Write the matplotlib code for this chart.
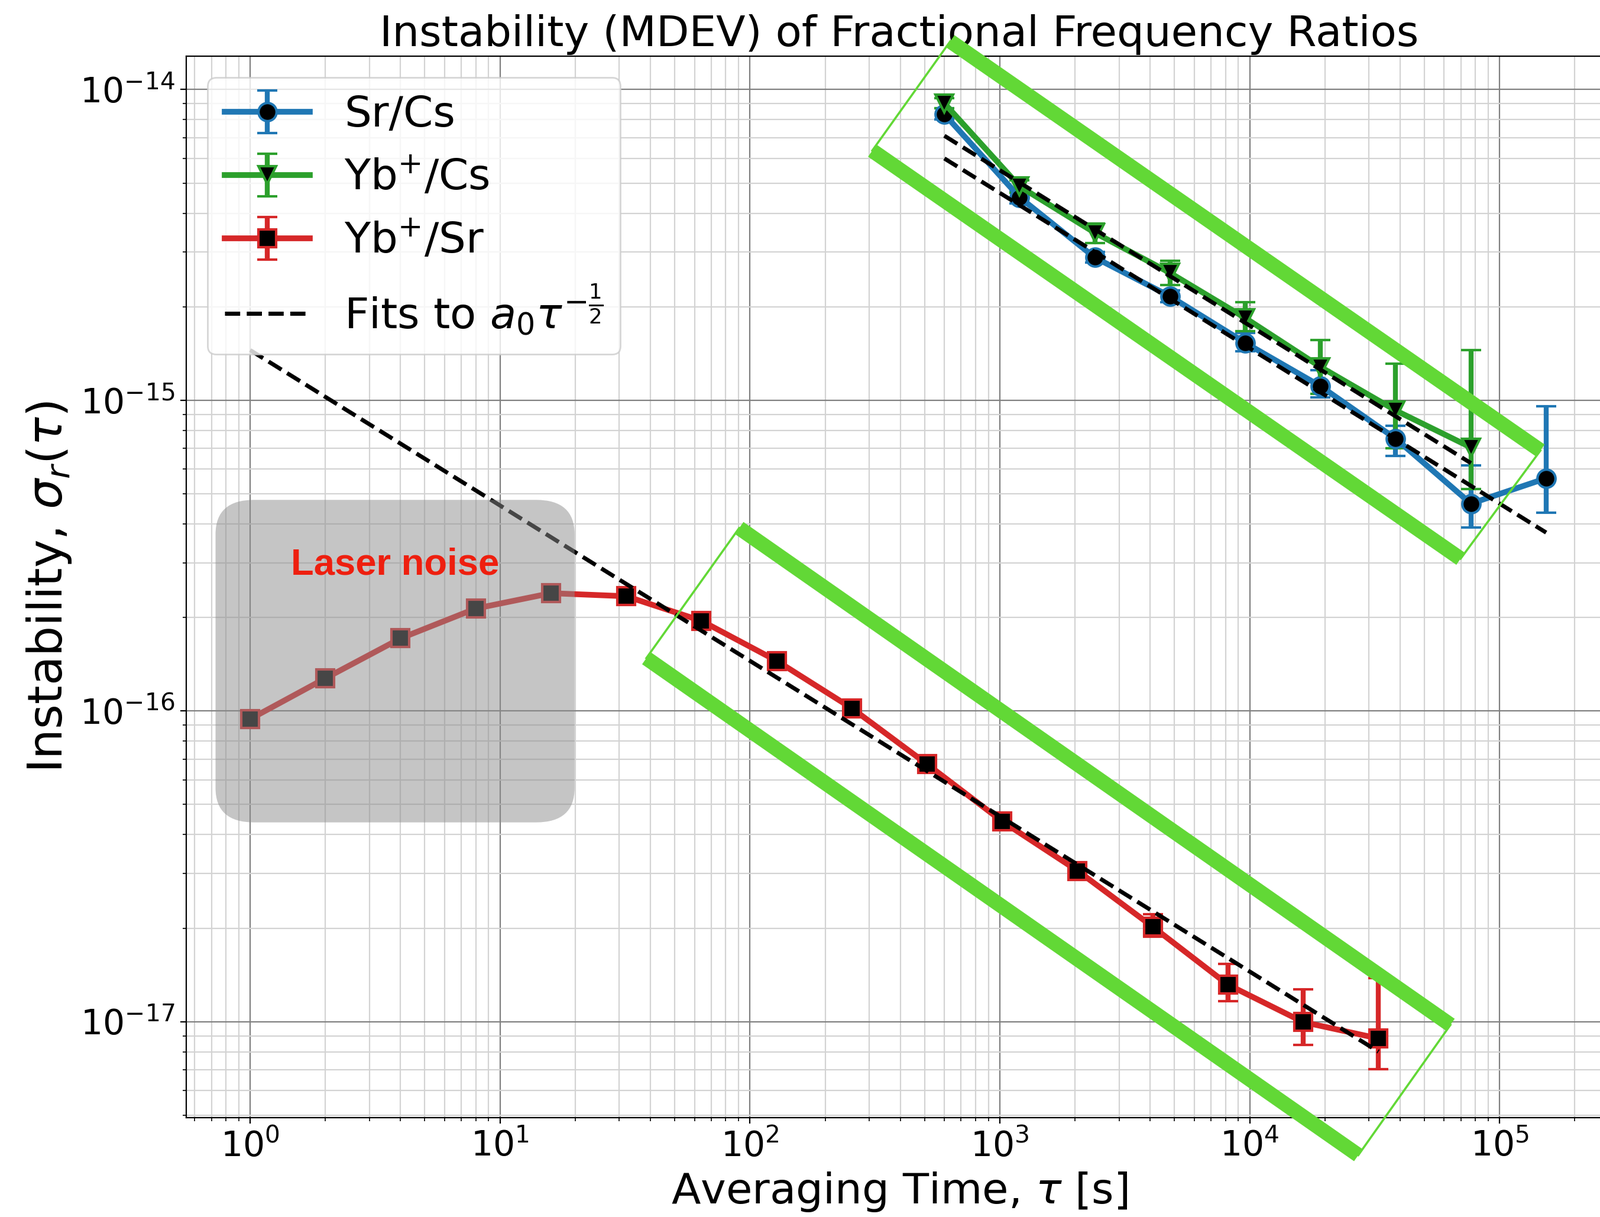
import matplotlib
matplotlib.use('Agg')
import matplotlib.pyplot as plt
from matplotlib.patches import FancyBboxPatch
import numpy as np

# Sr/Cs
tau_sr_cs = [600, 1200, 2400, 4800, 9600, 19200, 38400, 76800, 153600]
sig_sr_cs = [8.33e-15, 4.50e-15, 2.88e-15, 2.16e-15, 1.53e-15, 1.11e-15, 7.52e-16, 4.65e-16, 5.61e-16]
hi_sr_cs = [8.7e-15, 4.7e-15, 3.0e-15, 2.26e-15, 1.65e-15, 1.25e-15, 8.28e-16, 6.18e-16, 9.58e-16]
lo_sr_cs = [8.0e-15, 4.3e-15, 2.78e-15, 2.07e-15, 1.44e-15, 1.02e-15, 6.63e-16, 3.89e-16, 4.34e-16]

# Yb+/Cs
tau_yb_cs = [600, 1200, 2400, 4800, 9600, 19200, 38400, 76800]
sig_yb_cs = [9.03e-15, 4.88e-15, 3.46e-15, 2.57e-15, 1.84e-15, 1.28e-15, 9.27e-16, 7.05e-16]
hi_yb_cs = [9.4e-15, 5.1e-15, 3.7e-15, 2.81e-15, 2.07e-15, 1.56e-15, 1.31e-15, 1.45e-15]
lo_yb_cs = [8.7e-15, 4.65e-15, 3.2e-15, 2.35e-15, 1.67e-15, 1.05e-15, 7.0e-16, 5.19e-16]

# Yb+/Sr
tau_yb_sr = [1, 2, 4, 8, 16, 32, 64, 128, 256, 512, 1024, 2048, 4096, 8192, 16384, 32768]
sig_yb_sr = [9.42e-17, 1.274e-16, 1.713e-16, 2.137e-16, 2.394e-16, 2.34e-16, 1.95e-16, 1.45e-16,
             1.02e-16, 6.74e-17, 4.41e-17, 3.06e-17, 2.02e-17, 1.315e-17, 9.97e-18, 8.83e-18]
hi_yb_sr = [9.6e-17, 1.30e-16, 1.75e-16, 2.18e-16, 2.44e-16, 2.39e-16, 1.99e-16, 1.48e-16,
            1.04e-16, 6.9e-17, 4.53e-17, 3.16e-17, 2.22e-17, 1.538e-17, 1.272e-17, 1.38e-17]
lo_yb_sr = [9.2e-17, 1.25e-16, 1.68e-16, 2.09e-16, 2.34e-16, 2.29e-16, 1.91e-16, 1.42e-16,
            1.0e-16, 6.6e-17, 4.3e-17, 2.96e-17, 1.88e-17, 1.167e-17, 8.43e-18, 7.02e-18]

# a0 of the tau^-1/2 fits
a0_sr_cs = 1.47e-13
a0_yb_cs = 1.739e-13
a0_yb_sr = 1.45e-15

# highlight boxes (corners: top, right, bottom, left)
upper_box_x = [633.6, 145700, 69800, 308.7]
upper_box_y = [1.43e-14, 6.89e-16, 3.09e-16, 6.36e-15]
lower_box_x = [90.6, 63600, 27200, 38.5]
lower_box_y = [3.88e-16, 9.77e-18, 3.72e-18, 1.479e-16]

# laser noise region
noise_x = [0.727, 19.88]
noise_y = [4.38e-17, 4.78e-16]
noise_label_x = 3.8
noise_label_y = 2.95e-16

XLIM = (0.555, 2.83e5)
YLIM = (4.91e-18, 1.28e-14)
GREEN = '#62d836'


def yerr(sig, lo, hi):
    sig = np.array(sig)
    return [sig - np.array(lo), np.array(hi) - sig]


fig = plt.figure(figsize=(13.53, 10.29), dpi=200)
ax = fig.add_axes([0.1164, 0.0816, 0.8914, 0.8722])
ax.set_xscale('log')
ax.set_yscale('log')
ax.set_xlim(*XLIM)
ax.set_ylim(*YLIM)

eb_kw = dict(lw=3.5, ms=11, mew=1.5, mfc='black', elinewidth=3, capsize=6, capthick=1.8)
h1 = ax.errorbar(tau_sr_cs, sig_sr_cs, yerr=yerr(sig_sr_cs, lo_sr_cs, hi_sr_cs),
                 color='tab:blue', marker='o', mec='tab:blue', **eb_kw)
h2 = ax.errorbar(tau_yb_cs, sig_yb_cs, yerr=yerr(sig_yb_cs, lo_yb_cs, hi_yb_cs),
                 color='tab:green', marker='v', mec='tab:green', **eb_kw)
h3 = ax.errorbar(tau_yb_sr, sig_yb_sr, yerr=yerr(sig_yb_sr, lo_yb_sr, hi_yb_sr),
                 color='tab:red', marker='s', mec='tab:red', **eb_kw)

fit_kw = dict(color='black', ls='--', lw=2.5, zorder=3)
t = np.array(tau_sr_cs, dtype=float)
h4, = ax.plot(t, a0_sr_cs * t ** -0.5, **fit_kw)
t = np.array(tau_yb_cs, dtype=float)
ax.plot(t, a0_yb_cs * t ** -0.5, **fit_kw)
t = np.array(tau_yb_sr, dtype=float)
ax.plot(t, a0_yb_sr * t ** -0.5, **fit_kw)

ax.grid(which='major', color='gray', lw=0.8)
ax.grid(which='minor', color='lightgray', lw=0.8)
ax.tick_params(labelsize=21)

# grey box over the laser-noise dominated part
lx0, lx1 = np.log10(XLIM)
ly0, ly1 = np.log10(YLIM)
fx = [(np.log10(v) - lx0) / (lx1 - lx0) for v in noise_x]
fy = [(np.log10(v) - ly0) / (ly1 - ly0) for v in noise_y]
box = FancyBboxPatch((fx[0], fy[0]), fx[1] - fx[0], fy[1] - fy[0],
                     boxstyle='round,pad=0,rounding_size=0.027', mutation_aspect=1.2,
                     transform=ax.transAxes, facecolor=(0.55, 0.55, 0.55), alpha=0.5,
                     edgecolor='none', zorder=4)
ax.add_patch(box)
ax.text(noise_label_x, noise_label_y, 'Laser noise', color='#ee1f0f',
        fontsize=22.8, fontweight='bold', family=['Liberation Sans', 'DejaVu Sans'],
        ha='center', va='center', zorder=6)

# green highlight rectangles
for bx, by in [(upper_box_x, upper_box_y), (lower_box_x, lower_box_y)]:
    ax.plot([bx[0], bx[1]], [by[0], by[1]], color=GREEN, lw=9, solid_capstyle='butt',
            clip_on=False, zorder=5)
    ax.plot([bx[3], bx[2]], [by[3], by[2]], color=GREEN, lw=9, solid_capstyle='butt',
            clip_on=False, zorder=5)
    ax.plot([bx[1], bx[2]], [by[1], by[2]], color=GREEN, lw=1.3, clip_on=False, zorder=5)
    ax.plot([bx[3], bx[0]], [by[3], by[0]], color=GREEN, lw=1.3, clip_on=False, zorder=5)

ax.legend([h1, h2, h3, h4],
          ['Sr/Cs', 'Yb$^{+}$/Cs', 'Yb$^{+}$/Sr', r'Fits to $a_0\tau^{-\frac{1}{2}}$'],
          loc='upper left', fontsize=26)

ax.set_title('Instability (MDEV) of Fractional Frequency Ratios', fontsize=26)
ax.set_xlabel(r'Averaging Time, $\tau$ [s]', fontsize=26)
ax.set_ylabel(r'Instability, $\sigma_r(\tau)$', fontsize=29)

fig.savefig('out.png', dpi=200)
